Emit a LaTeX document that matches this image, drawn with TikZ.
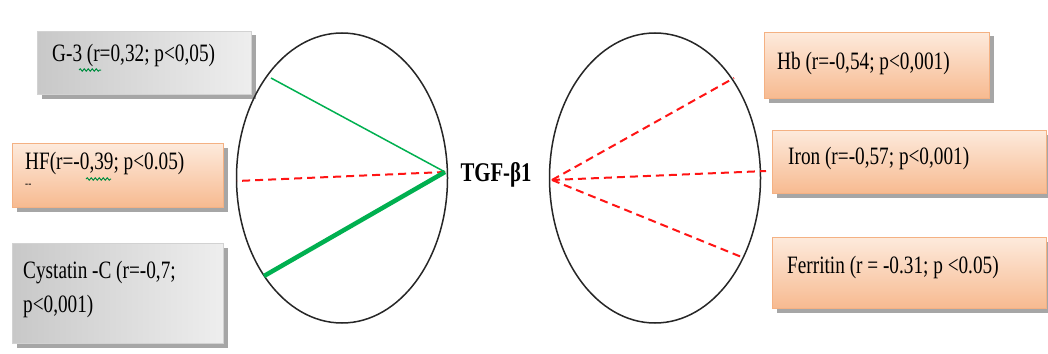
\documentclass[tikz,border=0pt]{standalone}
\usepackage{fontspec}
\setmainfont{Liberation Serif}[FakeStretch=0.77]
\usetikzlibrary{shapes.geometric,shadows,decorations.pathmorphing}
\definecolor{peachtop}{RGB}{253,234,220}
\definecolor{peachbot}{RGB}{247,186,144}
\definecolor{peachline}{RGB}{244,177,131}
\definecolor{greytop}{RGB}{200,200,200}
\definecolor{greybot}{RGB}{238,238,238}
\definecolor{linegreen}{RGB}{0,176,80}
\definecolor{linered}{RGB}{255,20,20}
\begin{document}
\begin{tikzpicture}[x=1pt,y=-1pt,
  boxbase/.style={rectangle,anchor=north west,inner sep=0pt,
    drop shadow={shadow xshift=4pt,shadow yshift=-4pt,fill=black,opacity=0.35}},
  peachbox/.style={boxbase,draw=peachline,line width=1pt,top color=peachtop,bottom color=peachbot},
  graybox/.style={boxbase,draw=gray!35,line width=1pt,left color=greytop,right color=greybot},
  lbl/.style={anchor=west,inner sep=0pt,font=\fontsize{25}{34}\selectfont,align=left},
  hub/.style={font=\fontsize{27}{30}\selectfont\bfseries,inner sep=0pt},
  oval/.style={ellipse,draw=black!85,line width=1.5pt,inner sep=0pt},
  posthin/.style={draw=linegreen,line width=1.5pt},
  posthick/.style={draw=linegreen,line width=4.5pt},
  neg/.style={draw=linered,line width=2pt,dash pattern=on 8pt off 5pt},
  squig/.style={draw=linegreen!80!black,line width=1pt,decorate,
    decoration={snake,amplitude=1.2pt,segment length=4pt}}
]
\useasboundingbox (0,0) rectangle (1048,353);
\fill[white] (0,0) rectangle (1048,353);

% boxes
\node[graybox,minimum width=214pt,minimum height=63pt] (g3box) at (37,31) {};
\node[peachbox,minimum width=211pt,minimum height=64pt] (hfbox) at (12,143) {};
\node[graybox,minimum width=211pt,minimum height=100pt] (cysbox) at (12,243) {};
\node[peachbox,minimum width=225pt,minimum height=66pt] (hbbox) at (764,32) {};
\node[peachbox,minimum width=274pt,minimum height=63pt] (ironbox) at (772,130) {};
\node[peachbox,minimum width=274pt,minimum height=71pt] (ferbox) at (772,237) {};

% labels
\node[lbl] (g3t) at (52,55) {G-3 (r=0,32; p<0,05)};
\node[lbl] (hft) at (25,163) {HF(r=-0,39; p<0.05)};
\node[anchor=west,inner sep=0pt,font=\fontsize{12}{12}\selectfont] (hfd) at (25,186) {{-}{-}};
\node[lbl] (cyst) at (23,289) {Cystatin -C (r=-0,7;\\p<0,001)};
\node[lbl] (hbt) at (777,63) {Hb (r=-0,54; p<0,001)};
\node[lbl] (iront) at (788,158) {Iron (r=-0,57; p<0,001)};
\node[lbl] (fert) at (787,267) {Ferritin (r = -0.31; p <0.05)};

% spell-check squiggles
\coordinate (sq1a) at (79,70); \coordinate (sq1b) at (101,70);
\coordinate (sq2a) at (86,179); \coordinate (sq2b) at (111,179);
\draw[squig] (sq1a) -- (sq1b);
\draw[squig] (sq2a) -- (sq2b);

% ellipses
\node[oval,minimum width=211pt,minimum height=290pt] (lov) at (342,178) {};
\node[oval,minimum width=211pt,minimum height=290pt] (rov) at (655,178) {};

% centre label
\node[hub] (tgf) at (496,175) {TGF-β1};

% connector ends
\coordinate (lhub) at (445,172);
\coordinate (rhub) at (552,180);
\coordinate (eg3) at (271,78);
\coordinate (ehf) at (237,181);
\coordinate (ecys) at (264,276);
\coordinate (ehb) at (734,78);
\coordinate (eiron) at (766,171);
\coordinate (efer) at (744,258);

\draw[posthin] (lhub) -- (eg3);
\draw[neg] (lhub) -- (ehf);
\draw[posthick] (lhub) -- (ecys);
\draw[neg] (rhub) -- (ehb);
\draw[neg] (rhub) -- (eiron);
\draw[neg] (rhub) -- (efer);
\end{tikzpicture}
\end{document}
